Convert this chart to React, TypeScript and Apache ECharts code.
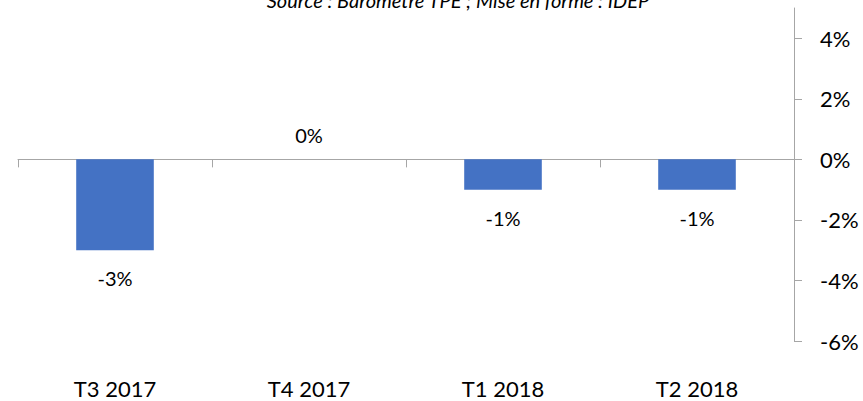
import React, { useEffect, useRef } from "react";
import * as echarts from "echarts";

const categories = ["T3 2017", "T4 2017", "T1 2018", "T2 2018"];
const values = [-3, 0, -1, -1];
const yTickValues = [-6, -4, -2, 0, 2, 4];
const titleText = "Source : Baromètre TPE ; Mise en forme : IDEP";

export default function App() {
  const ref = useRef<HTMLDivElement>(null);
  useEffect(() => {
    if (!ref.current) return;
    const chart = echarts.init(ref.current, null, { renderer: "svg" });
    const font = "Lato, 'Open Sans', sans-serif";
    chart.setOption({
      animation: false,
      graphic: [
        {
          type: "text",
          x: 458,
          y: 0,
          style: {
            text: titleText,
            fontFamily: font,
            fontStyle: "italic",
            fontSize: 20,
            fill: "#000",
            align: "center",
            verticalAlign: "middle",
          },
        },
      ],
      grid: { left: 18, right: 69, top: 8, bottom: 60, containLabel: false },
      xAxis: [
        {
          type: "category",
          data: categories,
          position: "bottom",
          axisLine: { onZero: true, lineStyle: { color: "#a6a6a6", width: 1 } },
          axisTick: { show: true, length: 8, lineStyle: { color: "#a6a6a6" } },
          axisLabel: { show: false },
          splitLine: { show: false },
        },
        {
          type: "category",
          data: categories,
          position: "bottom",
          axisLine: { show: false, onZero: false },
          axisTick: { show: false },
          axisLabel: {
            show: true,
            margin: 36,
            fontFamily: font,
            fontSize: 22,
            color: "#000",
          },
          splitLine: { show: false },
        },
      ],
      yAxis: {
        type: "value",
        position: "right",
        min: -6,
        max: 5,
        splitLine: { show: false },
        axisLine: { show: true, lineStyle: { color: "#a6a6a6", width: 1 } },
        axisTick: {
          show: true,
          length: 8,
          customValues: yTickValues,
          lineStyle: { color: "#a6a6a6" },
        },
        axisLabel: {
          customValues: yTickValues,
          margin: 26,
          fontFamily: font,
          fontSize: 22,
          color: "#000",
          formatter: (v: number) => `${v}%`,
        },
      },
      series: [
        {
          type: "bar",
          xAxisIndex: 0,
          barWidth: "40%",
          itemStyle: { color: "#4472C4" },
          data: values.map((v) => ({
            value: v,
            label: {
              show: true,
              position: v < 0 ? "bottom" : "top",
              distance: v < 0 ? 18 : 14,
              fontFamily: font,
              fontSize: 20,
              color: "#000",
              formatter: (p: any) => `${p.value}%`,
            },
          })),
        },
      ],
    });
    return () => chart.dispose();
  }, []);
  return <div ref={ref} style={{ width: 863, height: 401, position: "absolute", left: 0, top: 0 }} />;
}
